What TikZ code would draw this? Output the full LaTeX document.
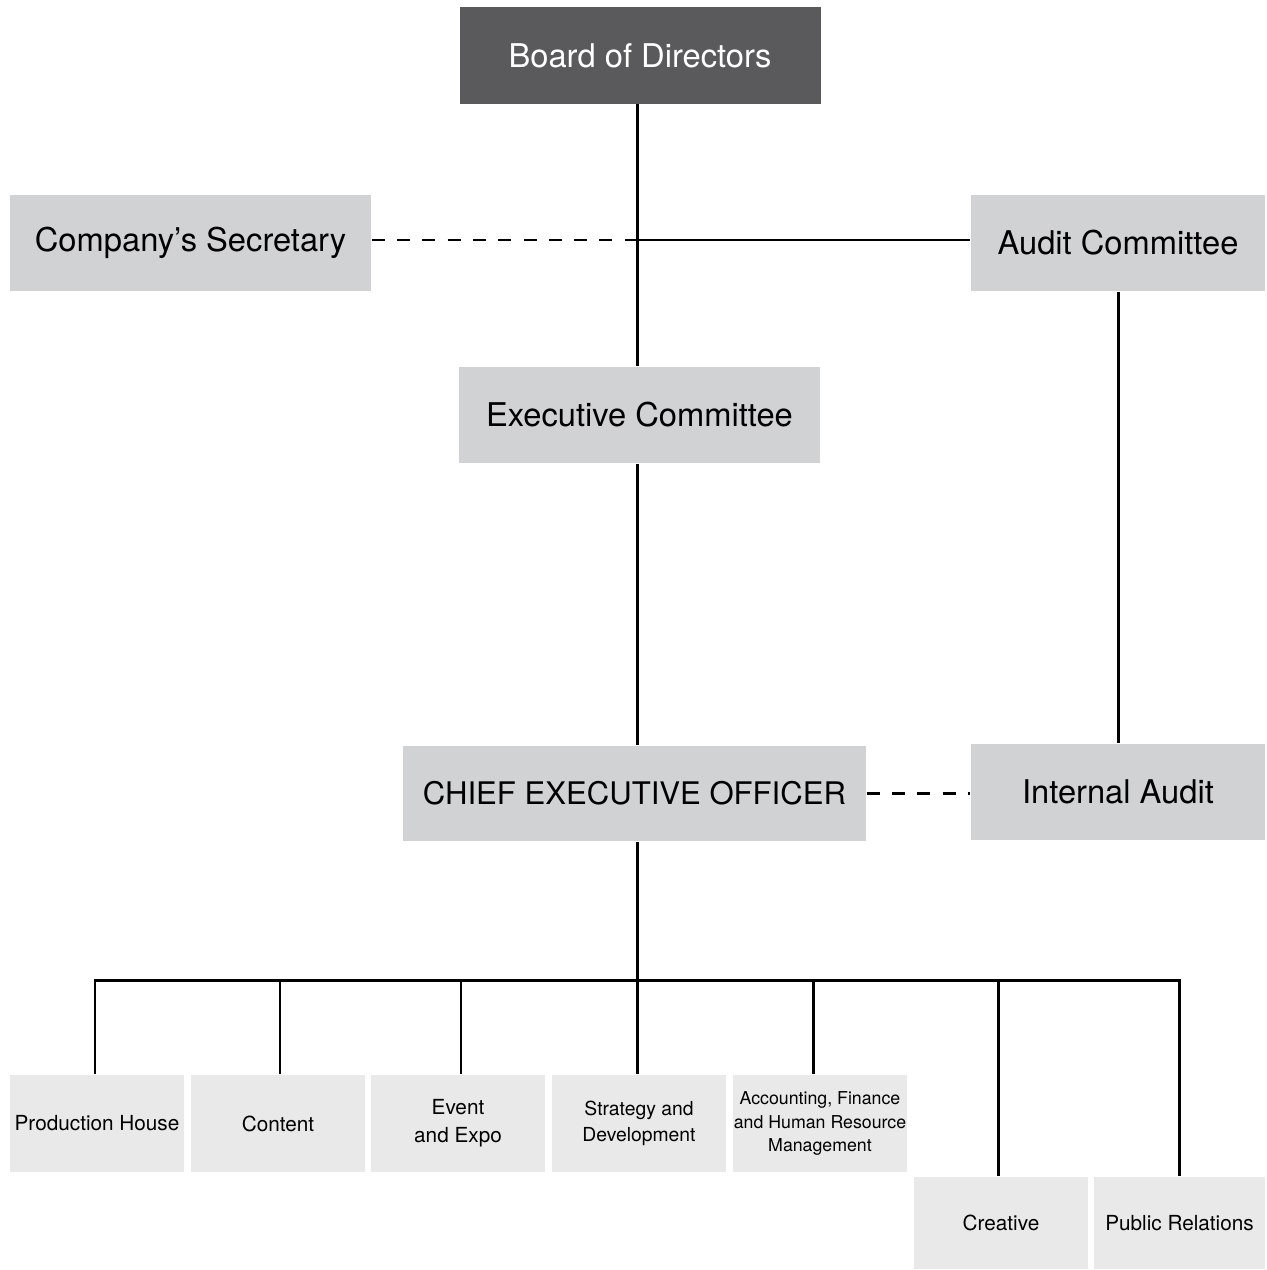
\documentclass[tikz,border=0pt]{standalone}
\usepackage{fontspec}
\setmainfont{TeX Gyre Heros}
\usetikzlibrary{calc}
\definecolor{boardgray}{HTML}{5A5A5C}
\definecolor{unitgray}{HTML}{D1D2D4}
\definecolor{deptgray}{HTML}{E9E9E9}
\tikzstyle{unit}=[rectangle,fill=unitgray,minimum width=3.61cm,minimum height=0.96cm,inner sep=0pt, anchor=center, font=\fontsize{9.3}{11}\selectfont]
\tikzstyle{board}=[unit,fill=boardgray,text=white]
\tikzstyle{dept}=[rectangle,fill=deptgray,minimum width=1.74cm,minimum height=0.97cm,inner sep=0pt, align=center, anchor=center, font=\fontsize{5.9}{8}\selectfont]
\tikzstyle{link}=[line width=0.85pt]
\tikzstyle{dashlink}=[line width=0.85pt, dash pattern=on 3.7pt off 3.5pt]

\begin{document}
\begin{tikzpicture}
	\useasboundingbox (0,0) rectangle (12.66,-12.70);
	\coordinate (trunk) at (6.37,0);

	% top of the chart
	\node[board](board) at (6.40,-0.555){Board of Directors};
	\node[unit](sec) at (1.905,-2.43){Company’s Secretary};
	\node[unit, minimum width=2.94cm](audit) at (11.18,-2.43){Audit Committee};
	\node[unit](exec) at (6.395,-4.15){Executive Committee};
	\node[unit, minimum width=4.63cm, minimum height=0.95cm, font=\fontsize{8.85}{11}\selectfont](ceo) at (6.345,-7.935){CHIEF EXECUTIVE OFFICER};
	\node[unit, minimum width=2.94cm](ia) at (11.18,-7.92){Internal Audit};

	% departments
	\node[dept](prod) at (0.97,-11.235){Production House};
	\node[dept](content) at (2.78,-11.235){Content};
	\node[dept, font=\fontsize{5.9}{8}\selectfont](event) at (4.58,-11.235){Event\\and Expo};
	\node[dept, font=\fontsize{5.5}{7.4}\selectfont](strategy) at (6.39,-11.235){Strategy and\\Development};
	\node[dept, font=\fontsize{5.05}{6.8}\selectfont](acct) at (8.20,-11.235){Accounting, Finance\\and Human Resource\\Management};
	\node[dept, minimum height=0.92cm](creative) at (10.01,-12.23){Creative};
	\node[dept, minimum width=1.71cm, minimum height=0.92cm](pr) at (11.795,-12.23){Public Relations};

	% reporting lines
	\draw[link] (trunk |- board.south) -- (trunk |- exec.north);
	\draw[dashlink] ([yshift=0.03cm]sec.east) -- ([yshift=0.03cm]sec.east -| trunk);
	\draw[link] ([yshift=0.03cm]audit.west -| trunk) -- ([yshift=0.03cm]audit.west);
	\draw[link] (audit.south) -- (ia.north);
	\draw[link] (trunk |- exec.south) -- (trunk |- ceo.north);
	\draw[dashlink] (ceo.east) -- (ceo.east -| ia.west);

	\draw[link] (trunk |- ceo.south) -- ++(0,-1.39) coordinate (bus);
	\draw[link] ([xshift=-0.02cm]prod.north) |- (bus) -| (pr.north);
	\foreach \n/\dx in {content/0.02,event/0.03,strategy/-0.02,acct/-0.07,creative/-0.03}
		\draw[link] (bus -| {$(\n.north)+(\dx,0)$}) -- ([xshift=\dx cm]\n.north);
\end{tikzpicture}
\end{document}
